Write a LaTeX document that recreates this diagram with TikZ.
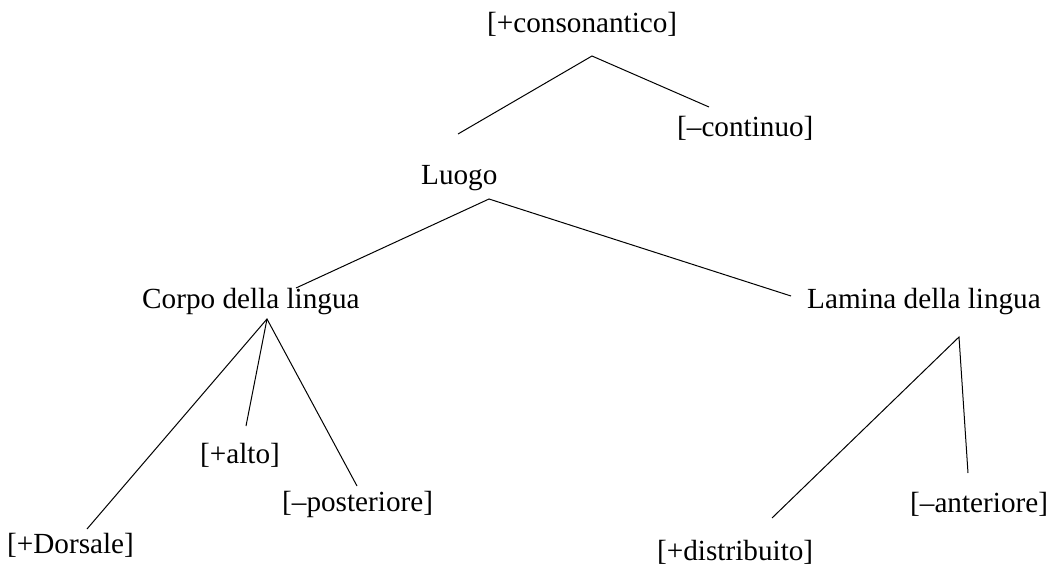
\documentclass[tikz,border=0pt]{standalone}
\usepackage{fontspec}
\setmainfont{Liberation Serif}
\begin{document}
\begin{tikzpicture}[x=1pt,y=-1pt,
  feat/.style={inner sep=0pt,anchor=base west,font=\fontsize{29.2}{35}\selectfont},
  branch/.style={line width=1pt,black}]
\useasboundingbox (0,0) rectangle (1053,567);

% feature labels
\node[feat] (cons) at (487,33) {[+consonantico]};
\node[feat] (cont) at (677,137) {[–continuo]};
\node[feat] (luogo) at (421,185) {Luogo};
\node[feat] (corpo) at (142,308) {Corpo della lingua};
\node[feat] (lamina) at (807,308) {Lamina della lingua};
\node[feat] (alto) at (200,463) {[+alto]};
\node[feat] (post) at (282,511) {[–posteriore]};
\node[feat] (dors) at (7,553) {[+Dorsale]};
\node[feat] (ant) at (910,512) {[–anteriore]};
\node[feat] (distr) at (657,560) {[+distribuito]};

% branch end points
\coordinate (cons-s) at (592,56);
\coordinate (luogo-n) at (458,134);
\coordinate (cont-n) at (709,107);
\coordinate (luogo-s) at (489,199);
\coordinate (corpo-n) at (296,288);
\coordinate (lamina-n) at (791,296);
\coordinate (corpo-s) at (267,319);
\coordinate (dors-n) at (87,529);
\coordinate (alto-n) at (246,426);
\coordinate (post-n) at (357,486);
\coordinate (lamina-s) at (959,337);
\coordinate (distr-n) at (772,518);
\coordinate (ant-n) at (968,473);

% branches
\draw[branch] (luogo-n) -- (cons-s) -- (cont-n);
\draw[branch] (corpo-n) -- (luogo-s) -- (lamina-n);
\draw[branch] (dors-n) -- (corpo-s) -- (post-n);
\draw[branch] (corpo-s) -- (alto-n);
\draw[branch] (distr-n) -- (lamina-s) -- (ant-n);
\end{tikzpicture}
\end{document}
